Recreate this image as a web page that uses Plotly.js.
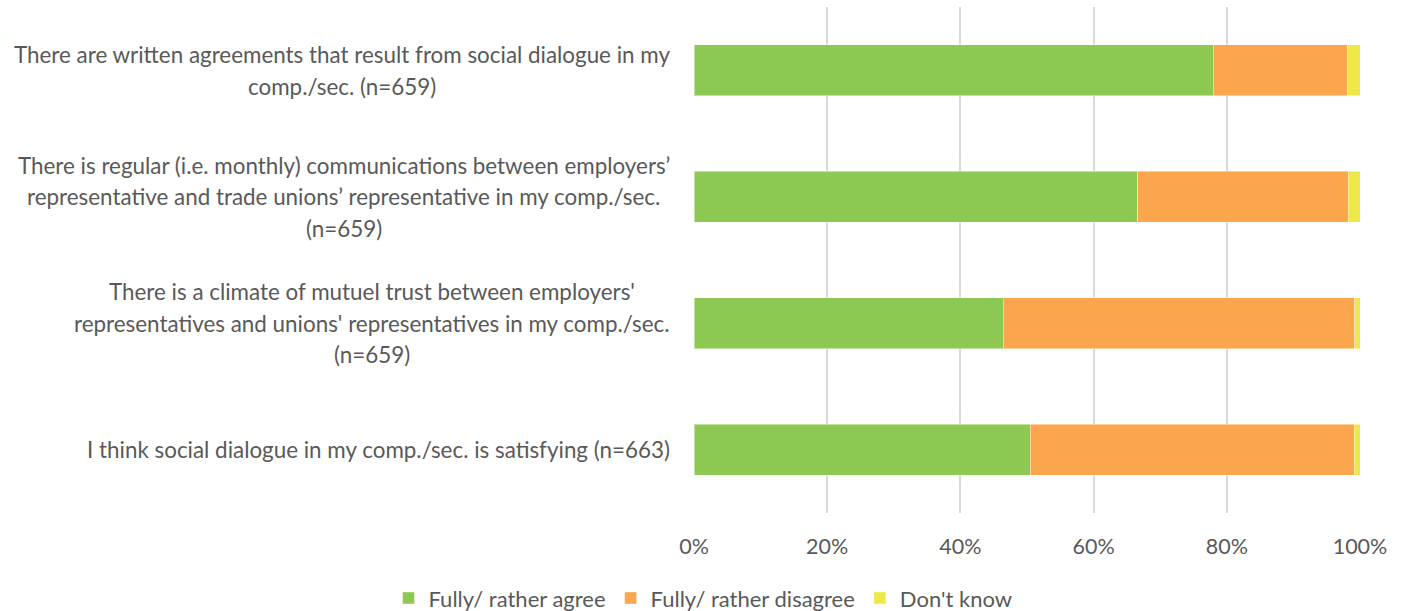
<!DOCTYPE html>
<html><head><meta charset="utf-8">
<script src="https://cdn.plot.ly/plotly-3.0.1.min.js"></script>
<style>html,body{margin:0;padding:0;background:#fff}#chart{width:1406px;height:611px}</style>
</head><body><div id="chart"></div>
<script>
const categories = [
  "There are written agreements that result from social dialogue in my\ncomp./sec. (n=659)",
  "There is regular (i.e. monthly) communications between employers’\nrepresentative and trade unions’ representative in my comp./sec.\n(n=659)",
  "There is a climate of mutuel trust between employers'\nrepresentatives and unions' representatives in my comp./sec.\n(n=659)",
  "I think social dialogue in my comp./sec. is satisfying (n=663)"
];
const agree = [78.0, 66.6, 46.4, 50.5];
const disagree = [20.1, 31.6, 52.8, 48.6];
const dontKnow = [1.9, 1.8, 0.8, 0.9];
const seriesNames = ["Fully/ rather agree", "Fully/ rather disagree", "Don't know"];
const tickVals = [0, 20, 40, 60, 80, 100];
const tickText = ["0%", "20%", "40%", "60%", "80%", "100%"];

const FONT = "Lato";
const FS = 22.4;
const TFS = 21.5;
const LFS = 22;
const colors = ["#8cc852", "#fba54d", "#ede846"];
const catIds = categories.map((c, i) => "c" + i);

const traces = [agree, disagree, dontKnow].map((vals, k) => ({
  type: "bar", orientation: "h", name: seriesNames[k],
  x: vals, y: catIds,
  marker: { color: colors[k], line: { color: "rgba(255,255,255,0.45)", width: 1 } },
  hoverinfo: "skip"
}));

const canvas = document.createElement("canvas");
const ctx = canvas.getContext("2d");
ctx.font = FS + "px " + FONT;
const PLOT_LEFT = 694, TEXT_RIGHT = 670, LINE_H = 31.5;
const annotations = [];
categories.forEach((c, i) => {
  const lines = c.split("\n");
  const maxW = Math.max(...lines.map(l => ctx.measureText(l).width));
  const cx = TEXT_RIGHT - PLOT_LEFT - maxW / 2;
  lines.forEach((l, j) => {
    annotations.push({
      xref: "paper", yref: "y", x: 0, y: catIds[i], text: l, showarrow: false,
      xanchor: "center", yanchor: "middle", xshift: cx,
      yshift: ((lines.length - 1) / 2 - j) * LINE_H,
      font: { family: FONT, size: FS, color: "#595959" }
    });
  });
});

const layout = {
  width: 1406, height: 611,
  margin: { l: 694, r: 46, t: 7, b: 98, pad: 0 },
  barmode: "stack", bargap: 0.6,
  paper_bgcolor: "#fff", plot_bgcolor: "#fff",
  font: { family: FONT, size: FS, color: "#595959" },
  xaxis: {
    range: [0, 100], tickvals: tickVals, ticktext: tickText,
    showgrid: true, gridcolor: "#d9d9d9", gridwidth: 2, zeroline: false,
    ticks: "", ticklabelstandoff: 18, fixedrange: true,
    tickfont: { family: FONT, size: TFS, color: "#595959" }
  },
  yaxis: {
    type: "category", autorange: "reversed", showticklabels: false,
    showgrid: false, zeroline: false, ticks: "", fixedrange: true
  },
  showlegend: true,
  legend: {
    orientation: "h", xref: "container", yref: "container",
    x: 0.5, xanchor: "center", y: 0.021, yanchor: "middle",
    font: { family: FONT, size: LFS, color: "#595959" },
    traceorder: "normal", itemwidth: 30
  },
  annotations: annotations
};
Plotly.newPlot("chart", traces, layout, { displayModeBar: false, staticPlot: true });
</script></body></html>
